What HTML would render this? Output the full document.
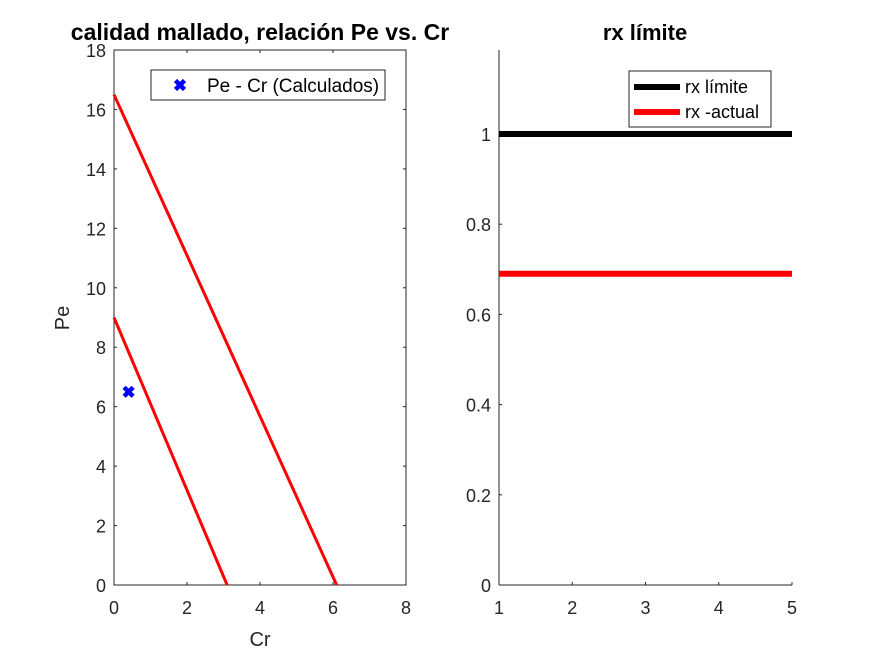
<!DOCTYPE html>
<html><head><meta charset="utf-8"><style>body{margin:0;background:#fff}svg{display:block;font-family:"Liberation Sans",sans-serif}</style></head>
<body>
<svg id="fig" width="875" height="656" viewBox="0 0 875 656" xmlns="http://www.w3.org/2000/svg">
<g id="L"></g>
<g id="R"></g>
</svg>
<script>
// Left chart data
const leftXTicks=[0,2,4,6,8];
const leftYTicks=[0,2,4,6,8,10,12,14,16,18];
const line1X=[0,6.1], line1Y=[16.5,0];
const line2X=[0,3.1], line2Y=[9,0];
const pointX=[0.4], pointY=[6.5];
// Right chart data
const rightXTicks=[1,2,3,4,5];
const rightYTicks=[0,0.2,0.4,0.6,0.8,1];
const rxLimitX=[1,5], rxLimitY=[1,1];
const rxActualX=[1,5], rxActualY=[0.69,0.69];

const NS='http://www.w3.org/2000/svg';
function mk(p,t,a,txt){const e=document.createElementNS(NS,t);for(const k in a)e.setAttribute(k,a[k]);if(txt!==undefined)e.textContent=txt;p.appendChild(e);return e;}
const TF=18;
// left axes
const L=document.getElementById('L');
const lx=v=>114+(v-0)/8*(406-114), ly=v=>585-(v/18)*(585-50);
let e=mk(L,'rect',{x:114,y:50,width:292,height:535,fill:'none',stroke:'#262626','stroke-width':1});

leftXTicks.forEach(t=>{mk(L,'line',{x1:lx(t),x2:lx(t),y1:585,y2:582,stroke:'#262626'});mk(L,'line',{x1:lx(t),x2:lx(t),y1:50,y2:53,stroke:'#262626'});
 e=mk(L,'text',{x:lx(t),y:614,'font-size':TF,fill:'#262626','text-anchor':'middle'},t);});
leftYTicks.forEach(t=>{mk(L,'line',{x1:114,x2:117,y1:ly(t),y2:ly(t),stroke:'#262626'});mk(L,'line',{x1:406,x2:403,y1:ly(t),y2:ly(t),stroke:'#262626'});
 e=mk(L,'text',{x:106,y:ly(t)+7,'font-size':TF,fill:'#262626','text-anchor':'end'},t);});
[[line1X,line1Y,'line-upper'],[line2X,line2Y,'line-lower']].forEach(([X,Y,n])=>{e=mk(L,'line',{x1:lx(X[0]),y1:ly(Y[0]),x2:lx(X[1]),y2:ly(Y[1]),stroke:'#ff0000','stroke-width':3});
 });
pointX.forEach((v,i)=>{const cx=lx(v),cy=ly(pointY[i]);e=mk(L,'path',{d:`M${cx-4.5},${cy-4.5}L${cx+4.5},${cy+4.5}M${cx+4.5},${cy-4.5}L${cx-4.5},${cy+4.5}`,stroke:'#0000ff','stroke-width':4.5});
 });
e=mk(L,'text',{x:260,y:40,'font-size':23,'font-weight':'bold','text-anchor':'middle',fill:'#000'},'calidad mallado, relación Pe vs. Cr');
e=mk(L,'text',{x:260,y:646,'font-size':20,'text-anchor':'middle',fill:'#262626'},'Cr');
e=mk(L,'text',{x:0,y:0,'font-size':20,'text-anchor':'middle',fill:'#262626',transform:'translate(69,318) rotate(-90)'},'Pe');
const lg=mk(L,'g',{});
mk(lg,'rect',{x:151,y:70,width:234,height:30,fill:'#fff',stroke:'#262626'});
mk(lg,'path',{d:'M175.5,80.5L184.5,89.5M184.5,80.5L175.5,89.5',stroke:'#0000ff','stroke-width':4.5});
mk(lg,'text',{x:207,y:92,'font-size':19,fill:'#000'},'Pe - Cr (Calculados)');
// right axes
const R=document.getElementById('R');
const rx=v=>499+(v-1)/4*(792-499), ry=v=>585-v/0.2*90.2;
mk(R,'line',{x1:499,x2:499,y1:50,y2:585,stroke:'#262626'});
mk(R,'line',{x1:499,x2:792,y1:585,y2:585,stroke:'#262626'});
rightXTicks.forEach(t=>{mk(R,'line',{x1:rx(t),x2:rx(t),y1:585,y2:582,stroke:'#262626'});
 e=mk(R,'text',{x:rx(t),y:614,'font-size':TF,fill:'#262626','text-anchor':'middle'},t);});
rightYTicks.forEach(t=>{mk(R,'line',{x1:499,x2:502,y1:ry(t),y2:ry(t),stroke:'#262626'});
 e=mk(R,'text',{x:491,y:ry(t)+7,'font-size':TF,fill:'#262626','text-anchor':'end'},t);});
e=mk(R,'line',{x1:rx(rxLimitX[0]),x2:rx(rxLimitX[1]),y1:ry(rxLimitY[0]),y2:ry(rxLimitY[1]),stroke:'#000','stroke-width':6});
e=mk(R,'line',{x1:rx(rxActualX[0]),x2:rx(rxActualX[1]),y1:ry(rxActualY[0]),y2:ry(rxActualY[1]),stroke:'#ff0000','stroke-width':6});
e=mk(R,'text',{x:645,y:40,'font-size':22,'font-weight':'bold','text-anchor':'middle',fill:'#000'},'rx límite');
const rg=mk(R,'g',{});
mk(rg,'rect',{x:629,y:71,width:142,height:56,fill:'#fff',stroke:'#262626'});
mk(rg,'line',{x1:634,x2:680,y1:87,y2:87,stroke:'#000','stroke-width':6});
mk(rg,'text',{x:685,y:93,'font-size':18,fill:'#000'},'rx límite');
mk(rg,'line',{x1:634,x2:680,y1:112,y2:112,stroke:'#ff0000','stroke-width':6});
mk(rg,'text',{x:685,y:118,'font-size':18,fill:'#000'},'rx -actual');
</script>
</body></html>
